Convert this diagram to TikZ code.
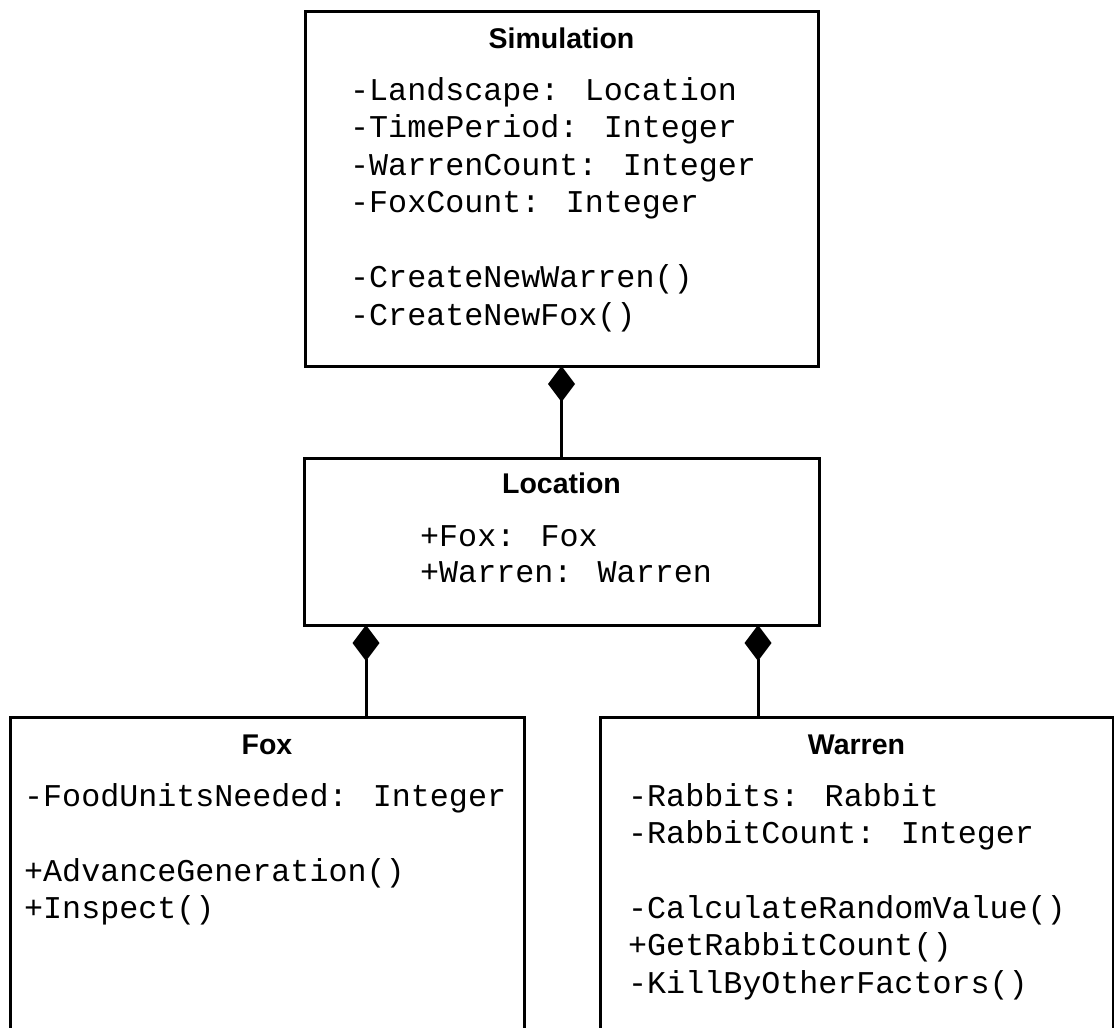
\documentclass[tikz,border=0pt]{standalone}
\usepackage{fontspec}
\newfontfamily\monofam{Liberation Mono}
\newfontfamily\titlefam{Liberation Sans}
\usetikzlibrary{arrows.meta}
\begin{document}
\begin{tikzpicture}[x=1pt,y=-1pt,
  classbox/.style={draw, line width=3pt, rectangle, anchor=north west, inner sep=0pt, outer sep=0pt},
  classtitle/.style={font=\titlefam\bfseries\fontsize{28.5}{34}\selectfont, anchor=base, inner sep=0pt},
  member/.style={font=\monofam\fontsize{31.7}{37.5}\selectfont, anchor=base west, inner sep=0pt},
  comp/.style={line width=3pt, -{Diamond[length=36pt,width=27pt]}}]
\clip (0,0) rectangle (1114,1028);
\fill[white] (0,0) rectangle (1114,1028);
% class boxes
\node[classbox, minimum width=513pt, minimum height=355pt] (sim) at (305,11) {};
\node[classbox, minimum width=515pt, minimum height=167pt] (loc) at (304,458) {};
\node[classbox, minimum width=514pt, minimum height=360pt] (fox) at (10,717) {};
\node[classbox, minimum width=513pt, minimum height=360pt] (war) at (600,717) {};
% titles
\node[classtitle] (simT) at (561.5,48) {Simulation};
\node[classtitle] (locT) at (561.5,493) {Location};
\node[classtitle] (foxT) at (267,754) {Fox};
\node[classtitle] (warT) at (856.5,754) {Warren};
% Simulation members
\node[member] (sim1) at (350,100) {-Landscape: Location};
\node[member] (sim2) at (350,137.5) {-TimePeriod: Integer};
\node[member] (sim3) at (350,175) {-WarrenCount: Integer};
\node[member] (sim4) at (350,212.5) {-FoxCount: Integer};
\node[member] (sim5) at (350,287.5) {-CreateNewWarren()};
\node[member] (sim6) at (350,325) {-CreateNewFox()};
% Location members
\node[member] (loc1) at (420,546) {+Fox: Fox};
\node[member] (loc2) at (420,582.5) {+Warren: Warren};
% Fox members
\node[member] (fox1) at (24,806) {-FoodUnitsNeeded: Integer};
\node[member] (fox2) at (24,881) {+AdvanceGeneration()};
\node[member] (fox3) at (24,918) {+Inspect()};
% Warren members
\node[member] (war1) at (628,806) {-Rabbits: Rabbit};
\node[member] (war2) at (628,843.5) {-RabbitCount: Integer};
\node[member] (war3) at (628,918) {-CalculateRandomValue()};
\node[member] (war4) at (628,955.5) {+GetRabbitCount()};
\node[member] (war5) at (628,993) {-KillByOtherFactors()};
% connectors
\coordinate (lf) at (366,0);
\coordinate (lw) at (758,0);
\draw[comp] (loc.north) -- (sim.south);
\draw[comp] (fox.north -| lf) -- (loc.south -| lf);
\draw[comp] (war.north -| lw) -- (loc.south -| lw);
\end{tikzpicture}
\end{document}
